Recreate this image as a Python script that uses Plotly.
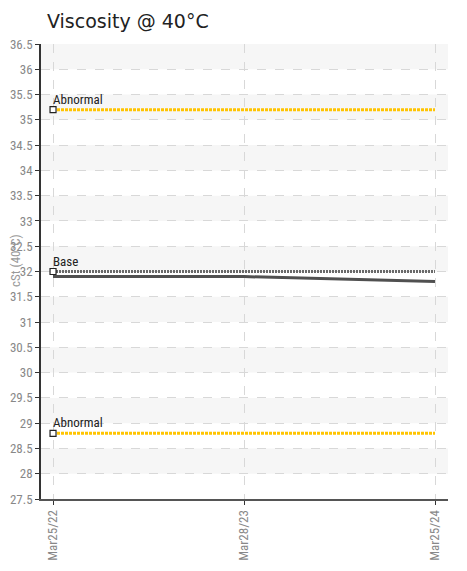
import plotly.graph_objects as go

dates = ["Mar25/22", "Mar28/23", "Mar25/24"]
viscosity = [31.9, 31.9, 31.8]
base_value = 32.0
abnormal_high = 35.2
abnormal_low = 28.8
y_ticks = [27.5, 28, 28.5, 29, 29.5, 30, 30.5, 31, 31.5, 32, 32.5, 33, 33.5,
           34, 34.5, 35, 35.5, 36, 36.5]
y_tick_text = ["27.5", "28", "28.5", "29", "29.5", "30", "30.5", "31", "31.5", "32",
               "32.5", "33", "33.5", "34", "34.5", "35", "35.5", "36", "36.5"]

narrow = "Liberation Sans Narrow, Roboto Condensed, Arial Narrow, sans-serif"

# page body has an 8px margin, so the figure is drawn 8px in from the top-left
W, H = 459, 563
L, T, R, B = 33, 36, 19, 72

fig = go.Figure()

# reference lines
for val, color, dash, width in [
    (abnormal_high, "#FFC400", "3px,1px", 3),
    (abnormal_low, "#FFC400", "3px,1px", 3),
    (base_value, "#6a6a6a", "2px,1px", 3),
]:
    fig.add_trace(go.Scatter(
        x=dates, y=[val] * len(dates), mode="lines",
        line=dict(color=color, width=width, dash=dash),
        hoverinfo="skip", showlegend=False))

# data line
fig.add_trace(go.Scatter(
    x=dates, y=viscosity, mode="lines",
    line=dict(color="#505050", width=3),
    showlegend=False))

# start markers
fig.add_trace(go.Scatter(
    x=[dates[0]] * 3, y=[abnormal_high, base_value, abnormal_low], mode="markers",
    marker=dict(symbol="square", size=6, color="white",
                line=dict(color="#222222", width=1.2)),
    hoverinfo="skip", showlegend=False))

# labels
for val, txt in [(abnormal_high, "Abnormal"), (base_value, "Base"), (abnormal_low, "Abnormal")]:
    fig.add_annotation(x=dates[0], y=val, text=txt, showarrow=False,
                       xanchor="left", yanchor="bottom", xshift=-2, yshift=1,
                       font=dict(family=narrow, size=13, color="#222222"))

# alternating bands
shapes = []
for i in range(len(y_ticks) - 1):
    lo, hi = y_ticks[i], y_ticks[i + 1]
    if i % 2 == 1:
        shapes.append(dict(type="rect", xref="paper", yref="y", x0=0, x1=1,
                           y0=lo, y1=hi, fillcolor="#f6f6f6", line=dict(width=0),
                           layer="below"))
fig.update_layout(shapes=shapes)

plot_w = W - L - R
plot_h = H - T - B
fig.add_annotation(xref="paper", yref="paper", x=(7 - L) / plot_w,
                   y=(H - B - 253) / plot_h,
                   xanchor="center", yanchor="middle",
                   text="cSt (40°C)", textangle=-90, showarrow=False,
                   font=dict(family=narrow, size=13, color="#999999"))

fig.update_layout(
    width=W, height=H,
    margin=dict(l=L, r=R, t=T, b=B, autoexpand=False),
    paper_bgcolor="white", plot_bgcolor="white",
    title=dict(text="Viscosity @ 40°C", x=39 / W, xanchor="left",
               y=1 - 13 / H, yanchor="middle",
               font=dict(family="DejaVu Sans", size=19, color="#222222")),
    xaxis=dict(type="category", range=[-0.063, 2.068], automargin=False,
               tickangle=-90, ticks="outside", ticklen=4, tickcolor="#333333",
               showline=True, linecolor="#555555", linewidth=2,
               showgrid=True, gridcolor="#d8d8d8", griddash="dash", gridwidth=1,
               tickfont=dict(family=narrow, size=13, color="#888888"),
               zeroline=False),
    yaxis=dict(range=[27.5, 36.5], tickvals=y_ticks, ticktext=y_tick_text,
               automargin=False,
               ticks="outside", ticklen=4, tickcolor="#333333",
               showline=True, linecolor="#333333", linewidth=1.5,
               showgrid=True, gridcolor="#d8d8d8", griddash="dash", gridwidth=1,
               tickfont=dict(family=narrow, size=13, color="#888888"),
               zeroline=False),
)

fig.write_html("out.html")
